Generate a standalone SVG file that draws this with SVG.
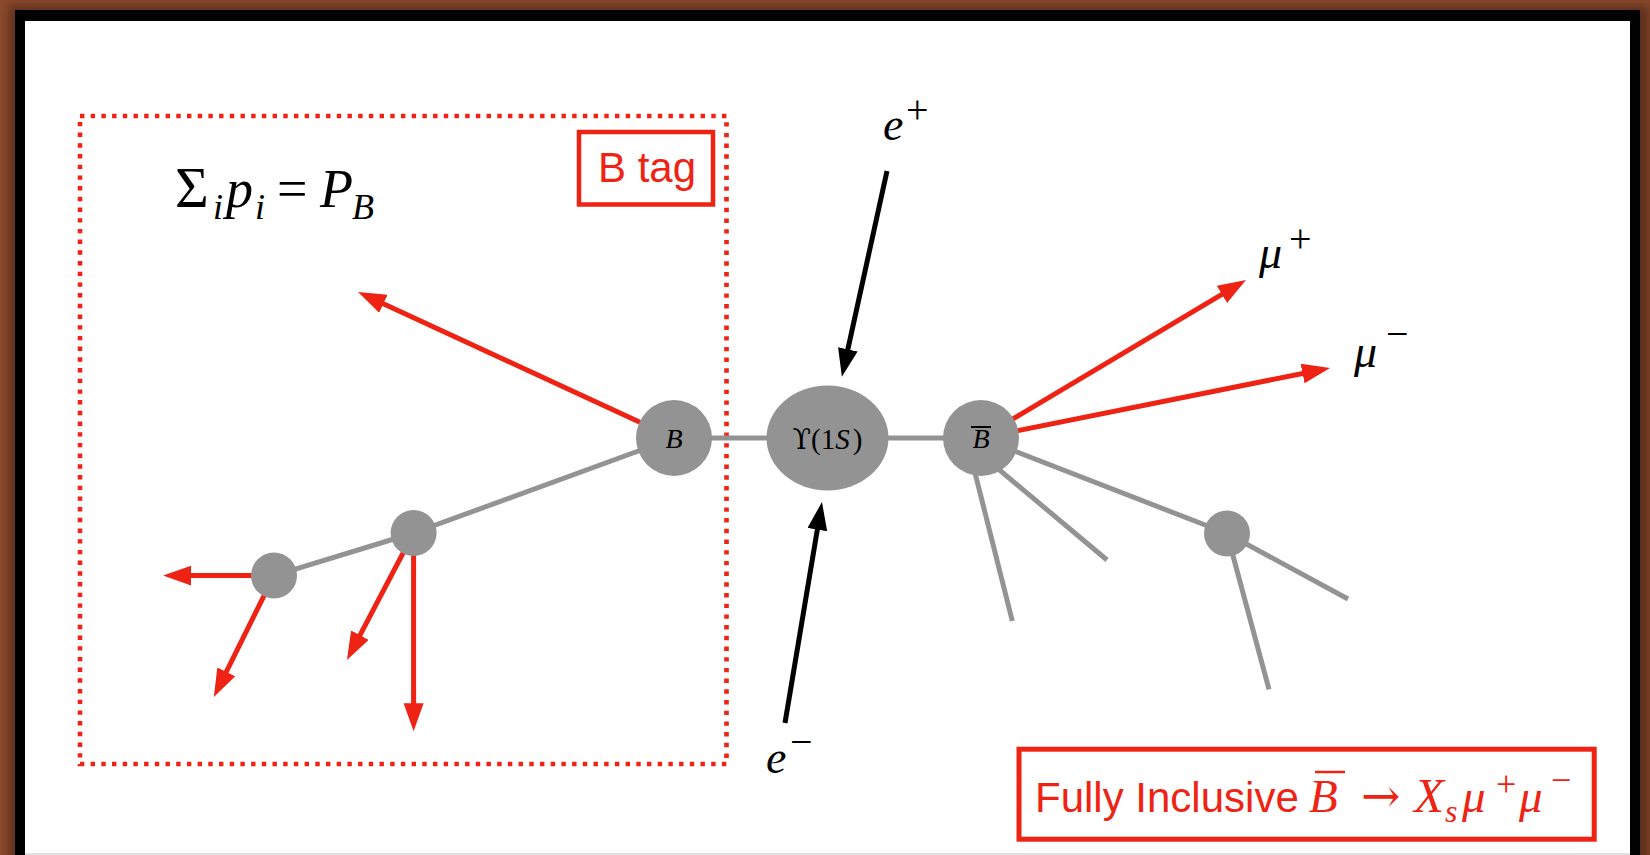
<svg xmlns="http://www.w3.org/2000/svg" width="1650" height="855" viewBox="0 0 1650 855">
  <defs>
    <style>
      .serif { font-family: "Liberation Serif", "DejaVu Serif", "Times New Roman", serif; }
      .sym { font-family: "DejaVu Serif", "Liberation Serif", serif; }
      .sans { font-family: "Liberation Sans", Arial, sans-serif; }
      .it { font-style: italic; }
      .red { fill: #EE2314; }
      .ink { fill: #000; }
      .gray-line { stroke: #939393; stroke-width: 5; fill: none; }
      .red-arrow { stroke: #EE2314; stroke-width: 5; fill: none; marker-end: url(#head-red); }
      .black-arrow { stroke: #000; stroke-width: 5; fill: none; marker-end: url(#head-black); }
      .node { fill: #939393; }
    </style>
    <marker id="head-red" markerUnits="userSpaceOnUse" markerWidth="30" markerHeight="22" refX="18" refY="10" orient="auto">
      <path d="M0,0 L28,10 L0,20 Z" fill="#EE2314"/>
    </marker>
    <marker id="head-black" markerUnits="userSpaceOnUse" markerWidth="30" markerHeight="22" refX="18" refY="10" orient="auto">
      <path d="M0,0 L28,10 L0,20 Z" fill="#000"/>
    </marker>
    <filter id="frame-shadow" x="-5%" y="-5%" width="110%" height="110%">
      <feGaussianBlur stdDeviation="5"/>
    </filter>
  </defs>

  <!-- backdrop and picture frame -->
  <rect x="0" y="0" width="1650" height="855" fill="#8B4A2D"/>
  <rect x="9" y="5" width="1640" height="870" fill="#3a1c10" opacity="0.55" filter="url(#frame-shadow)"/>
  <rect x="15" y="10" width="1625" height="860" fill="#000"/>
  <rect x="25" y="21" width="1605" height="832" fill="#fff"/>
  <rect x="25" y="853" width="1605" height="2" fill="#e2e2e2"/>

  <!-- B tag region -->
  <g id="btag-region">
    <rect x="80" y="116" width="646.5" height="648" fill="none" stroke="#EE2314" stroke-width="4.6" stroke-dasharray="4.4 6.3"/>
  </g>
  <g id="btag-label">
    <rect x="579" y="132" width="134" height="72.5" fill="none" stroke="#EE2314" stroke-width="4.5"/>
    <text x="598" y="181.5" class="sans red" font-size="42">B tag</text>
  </g>

  <!-- momentum sum -->
  <g id="momentum-sum" class="serif ink">
    <text y="207.3" font-size="54">
      <tspan x="175" font-size="58">Σ</tspan>
      <tspan x="213" y="218.5" font-size="36" class="it">i</tspan>
      <tspan x="226" y="207.3" class="it">p</tspan>
      <tspan x="255" y="218.5" font-size="36" class="it">i</tspan>
      <tspan x="277" y="207.3">=</tspan>
      <tspan x="320" y="207.3" class="it">P</tspan>
      <tspan x="352" y="218.5" font-size="36" class="it">B</tspan>
    </text>
  </g>

  <!-- connectors -->
  <g id="connectors">
    <!-- tag side -->
    <line class="gray-line" x1="674" y1="438" x2="413.6" y2="533"/>
    <line class="gray-line" x1="413.6" y1="533" x2="274" y2="575.6"/>
    <line class="red-arrow" x1="674" y1="438" x2="367.1" y2="296.2"/>
    <line class="red-arrow" x1="274" y1="575.6" x2="173.1" y2="575.6"/>
    <line class="red-arrow" x1="274" y1="575.6" x2="218.3" y2="688"/>
    <line class="red-arrow" x1="413.6" y1="533" x2="351.6" y2="651.1"/>
    <line class="red-arrow" x1="413.6" y1="533" x2="413.6" y2="721.3"/>
    <!-- central chain -->
    <line class="gray-line" x1="674" y1="438" x2="981" y2="438"/>
    <!-- beams -->
    <line class="black-arrow" x1="887" y1="171" x2="844" y2="366.9"/>
    <line class="black-arrow" x1="785" y1="723" x2="820.3" y2="511.9"/>
    <!-- signal side -->
    <line class="red-arrow" x1="981" y1="438" x2="1237.4" y2="285.1"/>
    <line class="red-arrow" x1="981" y1="438" x2="1320.2" y2="370"/>
    <line class="gray-line" x1="968" y1="445" x2="1012.3" y2="621"/>
    <line class="gray-line" x1="990" y1="462" x2="1107" y2="560"/>
    <line class="gray-line" x1="981" y1="438" x2="1227" y2="533.5"/>
    <line class="gray-line" x1="1227" y1="533.5" x2="1348" y2="599"/>
    <line class="gray-line" x1="1227" y1="533.5" x2="1269" y2="689.3"/>
  </g>

  <!-- nodes -->
  <g id="node-B">
    <circle class="node" cx="674" cy="438" r="38"/>
    <text x="674" y="448" text-anchor="middle" class="serif it ink" font-size="28">B</text>
  </g>
  <g id="node-upsilon">
    <ellipse class="node" cx="827.5" cy="438" rx="61" ry="52.5"/>
    <text x="827.5" y="449" text-anchor="middle" class="serif ink" font-size="29"><tspan class="sym" font-size="27">ϒ</tspan>(1<tspan class="it">S</tspan><tspan dx="3">)</tspan></text>
  </g>
  <g id="node-Bbar">
    <circle class="node" cx="981" cy="438" r="38"/>
    <text x="981" y="448" text-anchor="middle" class="serif it ink" font-size="28">B</text>
    <line x1="971" y1="427" x2="991" y2="427" stroke="#000" stroke-width="2"/>
  </g>
  <g id="node-tag-1">
    <circle class="node" cx="413.6" cy="533" r="23"/>
  </g>
  <g id="node-tag-2">
    <circle class="node" cx="274" cy="575.6" r="23"/>
  </g>
  <g id="node-signal-1">
    <circle class="node" cx="1227" cy="533.5" r="23"/>
  </g>

  <!-- particle labels -->
  <g id="label-eplus" class="serif ink">
    <text x="883" y="140" font-size="46" class="it">e</text>
    <text x="906" y="123" font-size="40">+</text>
  </g>
  <g id="label-eminus" class="serif ink">
    <text x="766" y="773" font-size="46" class="it">e</text>
    <text x="790" y="755" font-size="40">−</text>
  </g>
  <g id="label-muplus" class="serif ink">
    <text x="1259" y="268" font-size="46" class="it">μ</text>
    <text x="1289" y="252" font-size="40">+</text>
  </g>
  <g id="label-muminus" class="serif ink">
    <text x="1354" y="366.7" font-size="46" class="it">μ</text>
    <text x="1386" y="347" font-size="40">−</text>
  </g>

  <!-- decay caption -->
  <g id="caption">
    <rect x="1019" y="749.2" width="575.2" height="90" fill="none" stroke="#EE2314" stroke-width="5"/>
    <text x="1035" y="811.7" class="sans red" font-size="42">Fully Inclusive</text>
    <g class="serif red">
      <text x="1309" y="811.7" font-size="47" class="it">B</text>
      <line x1="1315" y1="772" x2="1345" y2="772" stroke="#EE2314" stroke-width="2.5"/>
      <text x="1361" y="811.7" font-size="47" class="sym">→</text>
      <text x="1414" y="811.7" font-size="49" class="it">X</text>
      <text x="1445" y="821.5" font-size="32" class="it">s</text>
      <text x="1462" y="811.7" font-size="47" class="it">μ</text>
      <text x="1496" y="796" font-size="36">+</text>
      <text x="1519" y="811.7" font-size="47" class="it">μ</text>
      <text x="1551" y="792" font-size="36">−</text>
    </g>
  </g>
</svg>
